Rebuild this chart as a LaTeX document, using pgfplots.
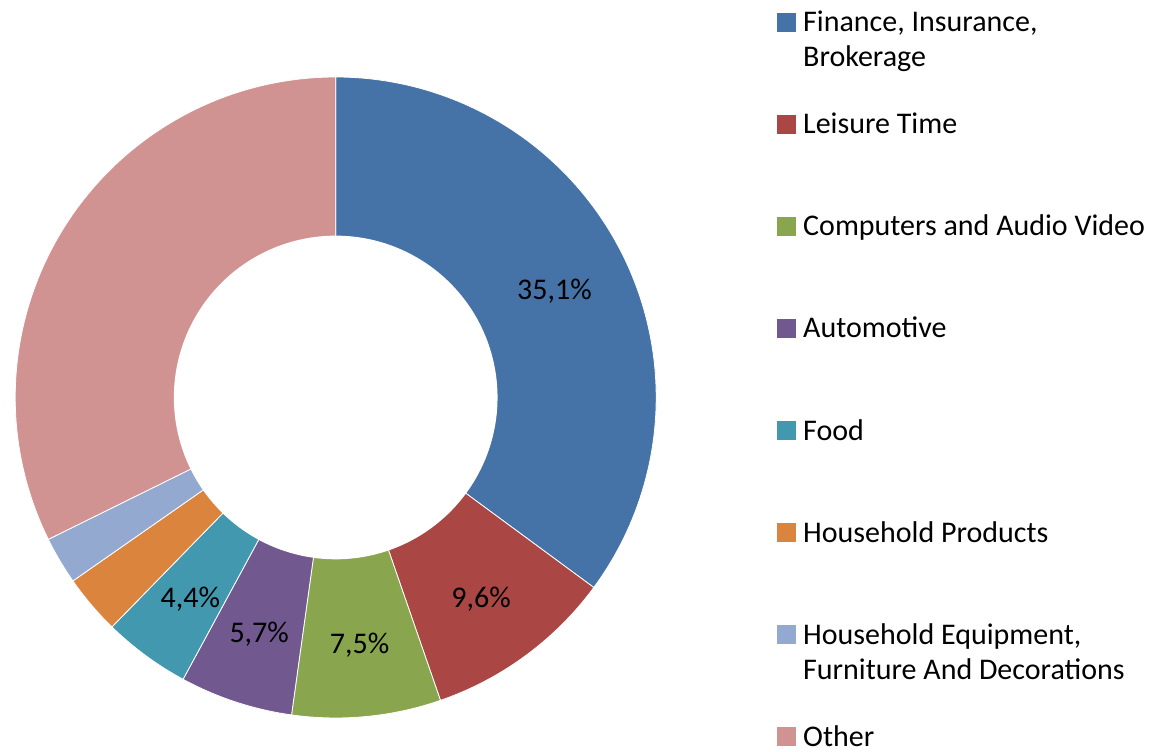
\documentclass[border=0pt]{standalone}
\usepackage{pgfplots}
\pgfplotsset{compat=1.18}
\usepackage{pgfplotstable}
\usepackage{fontspec}
\setmainfont{Carlito}

\definecolor{slice0}{HTML}{4572A7}
\definecolor{slice1}{HTML}{AA4643}
\definecolor{slice2}{HTML}{89A54E}
\definecolor{slice3}{HTML}{71588F}
\definecolor{slice4}{HTML}{4198AF}
\definecolor{slice5}{HTML}{DB843D}
\definecolor{slice6}{HTML}{93A9CF}
\definecolor{slice7}{HTML}{D19392}

% share of each sector, in percent, clockwise from 12 o'clock
\pgfplotstableread{
value
35.1
9.6
7.5
5.7
4.4
3.0
2.4
32.3
}\donutdata

\pgfplotstablecreatecol[create col/expr accum={\pgfmathaccuma+\thisrow{value}}{0}]{cum}\donutdata
\pgfplotstablecreatecol[create col/expr={0.765*cos(90-3.6*(\thisrow{cum}-0.5*\thisrow{value}))}]{lx}\donutdata
\pgfplotstablecreatecol[create col/expr={0.765*sin(90-3.6*(\thisrow{cum}-0.5*\thisrow{value}))}]{ly}\donutdata

\newcommand\LE[1]{\parbox[t]{360bp}{\raggedright #1}}

\begin{document}
\begin{tikzpicture}[font=\fontsize{30bp}{35bp}\selectfont]
\begin{axis}[
  scale only axis, width=1153bp, height=752bp,
  xmin=-1.0474, xmax=2.5500, ymin=-1.1061, ymax=1.2402,
  hide axis, clip=false,
  legend style={at={(0.67363,0.98710)}, anchor=north west, draw=none, fill=none,
    inner sep=0pt, outer sep=0pt, column sep=7.5bp, row sep=0pt,
    cells={anchor=base west},
    nodes={inner sep=0pt, outer sep=0pt, anchor=base west, text height=22bp, text depth=80.1bp}},
  legend image code/.code={\fill[#1, draw=none] (0bp,0bp) rectangle (19bp,19bp);},
  legend entries={
    {\LE{Finance, Insurance,\\Brokerage}},
    {\LE{Leisure Time}},
    {\LE{Computers and Audio Video}},
    {\LE{Automotive}},
    {\LE{Food}},
    {\LE{Household Products}},
    {\LE{Household Equipment,\\Furniture And Decorations}},
    {\LE{Other}}
  },
]
\gdef\cumA{0}
\pgfplotsinvokeforeach{0,...,7}{
  \pgfplotstablegetelem{#1}{value}\of\donutdata
  \pgfmathsetmacro\angHi{90-3.6*\cumA}
  \pgfmathsetmacro\newcum{\cumA+\pgfplotsretval}
  \xdef\cumA{\newcum}
  \pgfmathsetmacro\angLo{90-3.6*\cumA}
  \edef\doslice{\noexpand\addplot[fill=slice#1, draw=white, line width=0.8bp, domain=\angLo:\angHi, samples=100] ({cos(x)},{sin(x)}) -- (axis cs:0,0) -- cycle;}
  \doslice
}
\addplot[forget plot, fill=white, draw=none, domain=0:360, samples=180] ({0.505*cos(x)},{0.505*sin(x)}) -- cycle;
\addplot[forget plot, only marks, mark=*, mark size=0pt, mark options={draw opacity=0, fill opacity=0},
  point meta=explicit, skip coords between index={5}{8},
  nodes near coords={\pgfmathprintnumber[assume math mode=true, use comma, fixed, fixed zerofill, precision=1]{\pgfplotspointmeta}\%},
  every node near coord/.append style={anchor=center, yshift=-4bp, inner sep=0pt, text=black, text opacity=1, fill opacity=1, draw opacity=1}]
  table[x=lx, y=ly, meta=value] {\donutdata};
\end{axis}
\pgfresetboundingbox
\path (current axis.south west) rectangle (current axis.north east);
\end{tikzpicture}
\end{document}
